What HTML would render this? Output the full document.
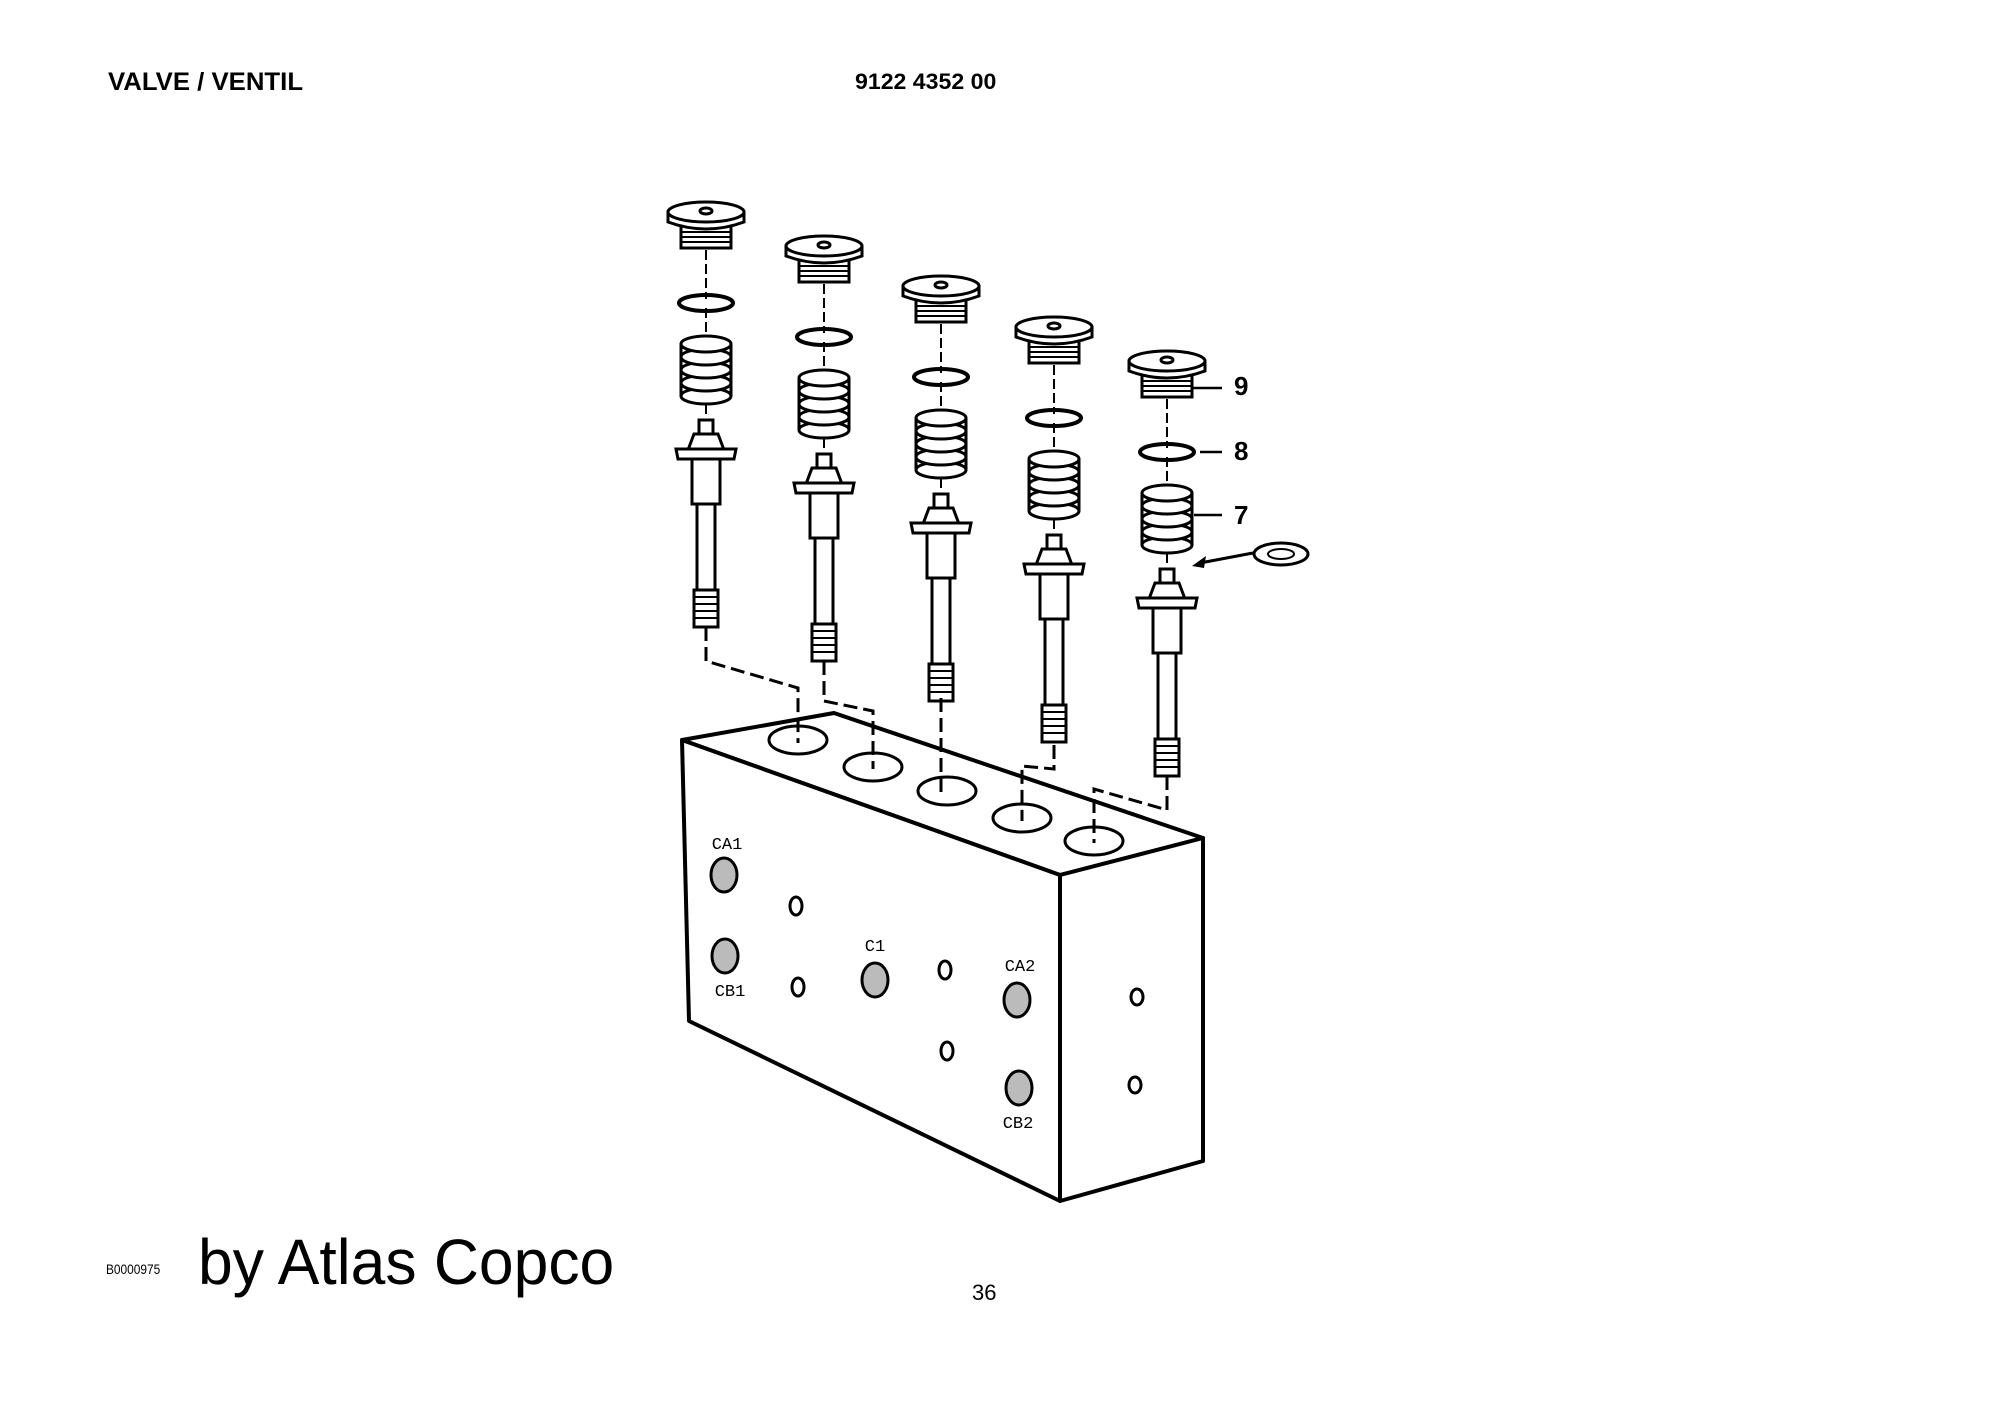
<!DOCTYPE html>
<html><head><meta charset="utf-8"><style>
html,body{margin:0;padding:0;background:#fff;}
body{width:2000px;height:1415px;position:relative;overflow:hidden;font-family:"Liberation Sans",sans-serif;}
.t{position:absolute;white-space:nowrap;color:#000;}
</style></head><body>
<div class="t" style="left:108px;top:68px;font-size:25px;font-weight:bold;transform:scaleX(1.03);transform-origin:left;">VALVE / VENTIL</div>
<div class="t" style="left:855px;top:69px;font-size:22px;font-weight:bold;transform:scaleX(1.05);transform-origin:left;">9122 4352 00</div>
<div class="t" style="left:106px;top:1261px;font-size:14px;transform:scaleX(0.85);transform-origin:left;">B0000975</div>
<div class="t" style="left:198px;top:1225px;font-size:64px;transform:scaleX(0.975);transform-origin:left;">by Atlas Copco</div>
<div class="t" style="left:972px;top:1280px;font-size:22px;">36</div>
<svg width="2000" height="1415" style="position:absolute;left:0;top:0" xmlns="http://www.w3.org/2000/svg">
<defs>
<g id="v" fill="#fff" stroke="#000" stroke-width="3">
  <path d="M-25,22 L-25,44 L25,44 L25,22 Z"/>
  <path d="M-24,28H24M-24,33H24M-24,38H24" stroke-width="2"/>
  <path d="M-38,8 L-38,18 Q0,32 38,18 L38,8 Z"/>
  <ellipse cx="0" cy="8" rx="38" ry="10"/>
  <ellipse cx="0" cy="7" rx="6" ry="3"/>
  <path d="M0,46V95M0,104V132M0,200V214" stroke-dasharray="10,4" stroke-width="2"/>
  <ellipse cx="0" cy="99" rx="27" ry="8" fill="none" stroke-width="4"/>
  <path d="M-25,140V192M25,140V192"/>
  <ellipse cx="0" cy="192" rx="25" ry="8"/>
  <ellipse cx="0" cy="179" rx="25" ry="8"/>
  <ellipse cx="0" cy="166" rx="25" ry="8"/>
  <ellipse cx="0" cy="153" rx="25" ry="8"/>
  <ellipse cx="0" cy="140" rx="25" ry="8"/>
  <rect x="-7" y="216" width="14" height="14"/>
  <path d="M-12,230 L12,230 L18,246 L-18,246 Z"/>
  <path d="M-30,245 L30,245 L28,255 L-28,255 Z"/>
  <rect x="-14" y="255" width="28" height="45"/>
  <rect x="-9" y="300" width="18" height="86"/>
  <rect x="-12" y="386" width="24" height="37"/>
  <path d="M-12,393H12M-12,400H12M-12,407H12M-12,414H12" stroke-width="2"/>
</g>
</defs>
<use href="#v" x="706" y="204"/>
<use href="#v" x="824" y="238"/>
<use href="#v" x="941" y="278"/>
<use href="#v" x="1054" y="319"/>
<use href="#v" x="1167" y="353"/>
<g transform="translate(0,-9)">
<g fill="#fff" stroke="#000" stroke-width="4" stroke-linejoin="round">
  <path d="M682,749 L834,722 L1203,847 L1060,884 Z"/>
  <path d="M682,749 L1060,884 L1060,1210 L689,1030 Z"/>
  <path d="M1060,884 L1203,847 L1203,1170 L1060,1210 Z"/>
</g>
<g fill="#fff" stroke="#000" stroke-width="3">
  <ellipse cx="798" cy="749" rx="29" ry="14"/>
  <ellipse cx="873" cy="776" rx="29" ry="14"/>
  <ellipse cx="947" cy="800" rx="29" ry="14"/>
  <ellipse cx="1022" cy="827" rx="29" ry="14"/>
  <ellipse cx="1094" cy="850" rx="29" ry="14"/>
</g>
<g fill="#bbb" stroke="#000" stroke-width="3">
  <ellipse cx="724" cy="884" rx="13" ry="17"/>
  <ellipse cx="725" cy="965" rx="13" ry="17"/>
  <ellipse cx="875" cy="989" rx="13" ry="17"/>
  <ellipse cx="1017" cy="1009" rx="13" ry="17"/>
  <ellipse cx="1019" cy="1097" rx="13" ry="17"/>
</g>
<g fill="#fff" stroke="#000" stroke-width="3">
  <ellipse cx="796" cy="915" rx="6" ry="9"/>
  <ellipse cx="798" cy="996" rx="6" ry="9"/>
  <ellipse cx="945" cy="979" rx="6" ry="9"/>
  <ellipse cx="947" cy="1060" rx="6" ry="9"/>
  <ellipse cx="1137" cy="1006" rx="6" ry="8"/>
  <ellipse cx="1135" cy="1094" rx="6" ry="8"/>
</g>
<g font-family="Liberation Mono, monospace" font-size="17" text-anchor="middle">
  <text x="727" y="858">CA1</text>
  <text x="730" y="1005">CB1</text>
  <text x="875" y="960">C1</text>
  <text x="1020" y="980">CA2</text>
  <text x="1018" y="1137">CB2</text>
</g>
</g>
<g fill="none" stroke="#000" stroke-width="3" stroke-dasharray="14,6">
  <path d="M706,627 V661 L798,688 V743"/>
  <path d="M824,661 V701 L873,711 V769"/>
  <path d="M941,698 V793"/>
  <path d="M1054,745 V769 L1022,766 V821"/>
  <path d="M1167,776 V810 L1094,789 V843"/>
</g>
<g stroke="#000" stroke-width="2.5">
  <path d="M1192,388H1222M1200,452H1222M1194,515H1222"/>
  <path d="M1253,553 L1200,563" stroke-width="3"/>
</g>
<path d="M1192,566 L1206,556 L1204,568 Z" fill="#000"/>
<ellipse cx="1281" cy="554" rx="27" ry="11" fill="#fff" stroke="#000" stroke-width="3"/>
<ellipse cx="1281" cy="554" rx="13" ry="5" fill="#fff" stroke="#000" stroke-width="2"/>
<g font-family="Liberation Sans, sans-serif" font-size="26" font-weight="bold">
  <text x="1234" y="395">9</text>
  <text x="1234" y="460">8</text>
  <text x="1234" y="524">7</text>
</g>
</svg>
</body></html>
